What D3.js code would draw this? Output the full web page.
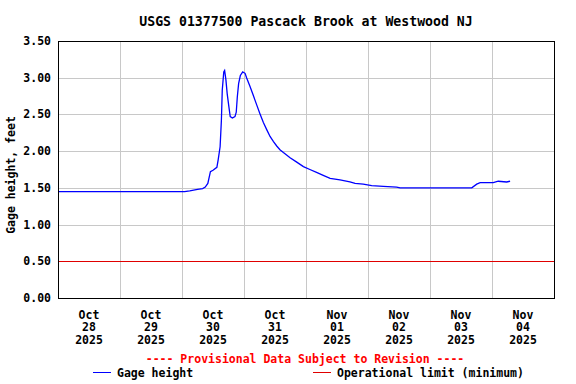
<!DOCTYPE html>
<html>
<head>
<meta charset="utf-8">
<script src="https://cdn.jsdelivr.net/npm/d3@7"></script>
<style>
  body { margin: 0; background: #fff; }
  text { font-family: "DejaVu Sans Mono", "Liberation Mono", monospace; font-weight: bold; }
</style>
</head>
<body>
<div id="container"></div>
<script>
// Chart size
var svg_width = 576
var svg_height = 384

// --- DATA ---
// gage height readings (time, feet)
var times = [
  "2025-10-28 00:00", "2025-10-28 16:00", "2025-10-29 12:00", "2025-10-30 01:00",
  "2025-10-30 03:00", "2025-10-30 06:00", "2025-10-30 08:00", "2025-10-30 09:00",
  "2025-10-30 10:00", "2025-10-30 11:00", "2025-10-30 12:00", "2025-10-30 13:30",
  "2025-10-30 14:00", "2025-10-30 14:45", "2025-10-30 15:15", "2025-10-30 15:35",
  "2025-10-30 16:10", "2025-10-30 16:30", "2025-10-30 17:00", "2025-10-30 17:30",
  "2025-10-30 18:10", "2025-10-30 18:40", "2025-10-30 19:30", "2025-10-30 20:30",
  "2025-10-30 21:00", "2025-10-30 21:25", "2025-10-30 21:55", "2025-10-30 22:35",
  "2025-10-30 23:30", "2025-10-31 00:25", "2025-10-31 01:00", "2025-10-31 02:20",
  "2025-10-31 03:35", "2025-10-31 04:55", "2025-10-31 06:10", "2025-10-31 07:30",
  "2025-10-31 08:50", "2025-10-31 10:05", "2025-10-31 11:25", "2025-10-31 12:40",
  "2025-10-31 13:55", "2025-10-31 15:15", "2025-10-31 17:50", "2025-10-31 20:25",
  "2025-10-31 23:00", "2025-11-01 01:30", "2025-11-01 04:05", "2025-11-01 06:40",
  "2025-11-01 09:20", "2025-11-01 13:10", "2025-11-01 17:00", "2025-11-01 19:00",
  "2025-11-01 22:10", "2025-11-02 01:25", "2025-11-02 05:55", "2025-11-02 11:05",
  "2025-11-02 12:25", "2025-11-03 00:00", "2025-11-03 12:55", "2025-11-03 16:10",
  "2025-11-03 18:05", "2025-11-03 19:25", "2025-11-04 00:30", "2025-11-04 02:25",
  "2025-11-04 05:40", "2025-11-04 07:00"
];
var gage = [
  1.45, 1.45, 1.45, 1.45,
  1.46, 1.48, 1.49, 1.51,
  1.56, 1.72, 1.74, 1.78,
  1.88, 2.06, 2.42, 2.83,
  3.08, 3.10, 2.97, 2.78,
  2.60, 2.47, 2.45, 2.47,
  2.53, 2.74, 2.92, 3.03,
  3.08, 3.06, 3.00, 2.88,
  2.76, 2.63, 2.51, 2.39,
  2.29, 2.20, 2.13, 2.07,
  2.02, 1.98, 1.91, 1.85,
  1.79, 1.75, 1.71, 1.67,
  1.63, 1.61, 1.58, 1.56,
  1.55, 1.53, 1.52, 1.51,
  1.50, 1.50, 1.50, 1.50,
  1.55, 1.57, 1.57, 1.59,
  1.58, 1.59
];
var operationalLimit = 0.50
var yTicks = [0, 0.5, 1.0, 1.5, 2.0, 2.5, 3.0, 3.5]
var dayStart = "2025-10-28 00:00"
var dayEnd = "2025-11-05 00:00"

var titleText = "USGS 01377500 Pascack Brook at Westwood NJ"
var yTitle = "Gage height, feet"
var provisionalText = "---- Provisional Data Subject to Revision ----"
var legendItems = ["Gage height", "Operational limit (minimum)"]

//
// Layout
var margin = {top: 41, right: 22, bottom: 86, left: 58}
var width = svg_width - margin.left - margin.right
var height = svg_height - margin.top - margin.bottom

var parseTime = d3.timeParse("%Y-%m-%d %H:%M")
var data = times.map(function(t, i){ return [parseTime(t), gage[i]]; })

var svg = d3.select("#container")
    .append("svg")
    .attr("width", svg_width)
    .attr("height", svg_height)

var x = d3.scaleTime()
    .domain([parseTime(dayStart), parseTime(dayEnd)])
    .range([margin.left, margin.left + width])

var y = d3.scaleLinear()
    .domain([0, 3.5])
    .range([margin.top + height, margin.top])

// Title
svg.append("text")
    .attr("x", margin.left + width / 2)
    .attr("y", 26)
    .attr("text-anchor", "middle")
    .style("font-size", "13.2px")
    .text(titleText)

// Gridlines
var days = d3.timeDay.range(parseTime(dayStart), parseTime(dayEnd))
svg.append("g").selectAll("line")
    .data(days.slice(1))
    .enter()
    .append("line")
    .attr("x1", d => Math.round(x(d)) + 0.5)
    .attr("x2", d => Math.round(x(d)) + 0.5)
    .attr("y1", margin.top)
    .attr("y2", margin.top + height)
    .attr("stroke", "#c8c8c8")

svg.append("g").selectAll("line")
    .data(yTicks.slice(1, -1))
    .enter()
    .append("line")
    .attr("x1", margin.left)
    .attr("x2", margin.left + width)
    .attr("y1", d => Math.round(y(d)) + 0.5)
    .attr("y2", d => Math.round(y(d)) + 0.5)
    .attr("stroke", "#c8c8c8")

// Operational limit
svg.append("line")
    .attr("x1", margin.left)
    .attr("x2", margin.left + width)
    .attr("y1", Math.round(y(operationalLimit)) + 0.5)
    .attr("y2", Math.round(y(operationalLimit)) + 0.5)
    .attr("stroke", "#e00000")

// Gage height line
var line = d3.line()
    .x(d => x(d[0]))
    .y(d => y(d[1]))

svg.append("path")
    .datum(data)
    .attr("d", line)
    .attr("fill", "none")
    .attr("stroke", "#0000ff")
    .attr("stroke-width", 1.3)

// Frame
svg.append("rect")
    .attr("x", margin.left + 0.5)
    .attr("y", margin.top + 0.5)
    .attr("width", width)
    .attr("height", height)
    .attr("fill", "none")
    .attr("stroke", "#000")

// Y tick labels
svg.append("g").selectAll("text")
    .data(yTicks)
    .enter()
    .append("text")
    .attr("x", 51)
    .attr("y", d => y(d) + 4)
    .attr("text-anchor", "end")
    .style("font-size", "11.5px")
    .text(d => d.toFixed(2))

// Y title
svg.append("text")
    .attr("transform", "translate(15," + 175 + ") rotate(-90)")
    .attr("text-anchor", "middle")
    .style("font-size", "11.5px")
    .text(yTitle)

// X tick labels at noon of each day
var fmtMon = d3.timeFormat("%b"), fmtDay = d3.timeFormat("%d"), fmtYear = d3.timeFormat("%Y")
var xLabels = svg.append("g").selectAll("text")
    .data(days)
    .enter()
    .append("text")
    .attr("text-anchor", "middle")
    .style("font-size", "11.5px")
xLabels.append("tspan")
    .attr("x", d => x(d3.timeHour.offset(d, 12)))
    .attr("y", 318.5)
    .text(d => fmtMon(d))
xLabels.append("tspan")
    .attr("x", d => x(d3.timeHour.offset(d, 12)))
    .attr("y", 331)
    .text(d => fmtDay(d))
xLabels.append("tspan")
    .attr("x", d => x(d3.timeHour.offset(d, 12)))
    .attr("y", 344)
    .text(d => fmtYear(d))

// Provisional note
svg.append("text")
    .attr("x", 305)
    .attr("y", 362.5)
    .attr("text-anchor", "middle")
    .attr("fill", "#ff0000")
    .style("font-size", "11.5px")
    .text(provisionalText)

// Legend
var legendColors = ["#0000ff", "#e00000"]
var legendX = [93, 313]
var legend = svg.append("g").selectAll("g")
    .data(legendItems)
    .enter()
    .append("g")
legend.append("line")
    .attr("x1", (d, i) => legendX[i])
    .attr("x2", (d, i) => legendX[i] + 18)
    .attr("y1", 372.5)
    .attr("y2", 372.5)
    .attr("stroke", (d, i) => legendColors[i])
legend.append("text")
    .attr("x", (d, i) => legendX[i] + 24)
    .attr("y", 376.5)
    .style("font-size", "11.5px")
    .text(d => d)
</script>
</body>
</html>
